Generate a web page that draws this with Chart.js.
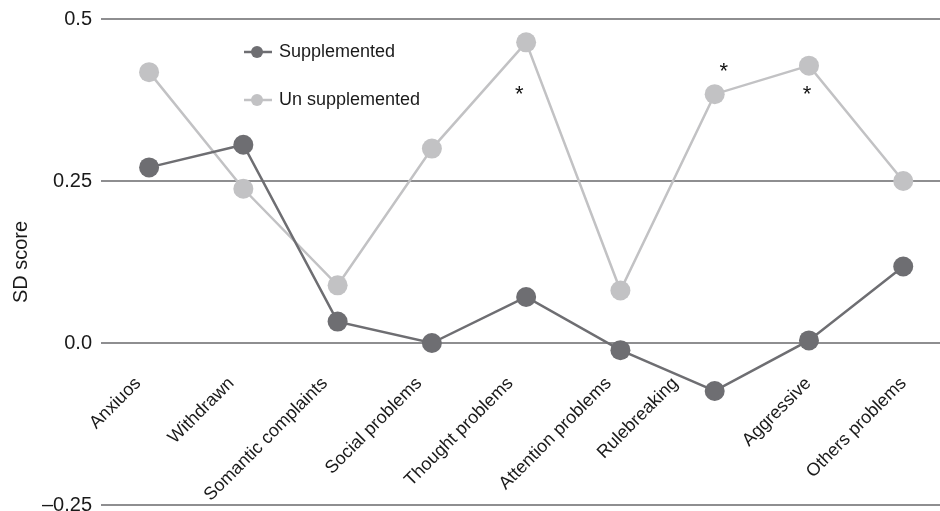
<!DOCTYPE html>
<html>
<head>
<meta charset="utf-8">
<script src="https://cdn.jsdelivr.net/npm/chart.js@4.4.1/dist/chart.umd.min.js"></script>
<style>
  html, body { margin: 0; padding: 0; background: #fff; }
  #wrap { width: 940px; height: 511px; }
</style>
</head>
<body>
<div id="wrap"><canvas id="canvas1"></canvas></div>
<script>
const categories = ['Anxiuos', 'Withdrawn', 'Somantic complaints', 'Social problems', 'Thought problems',
    'Attention problems', 'Rulebreaking', 'Aggressive', 'Others problems'];
const supplemented = [0.271, 0.306, 0.033, 0.0, 0.071, -0.011, -0.074, 0.004, 0.118];
const unsupplemented = [0.418, 0.238, 0.089, 0.300, 0.464, 0.081, 0.384, 0.428, 0.250];
const yTicks = [-0.25, 0, 0.25, 0.5];
const yTickLabels = ['\u20130.25', '0.0', '0.25', '0.5'];
// significance marks on the un supplemented series: index, dx, dy
const stars = [[4, -7, 53], [6, 9, -22], [7, -2, 29]];
// the original figure's axis labels sit a little off their points
const labelNudge = [0, -0.01, -0.02, -0.02, -0.05, -0.01, -0.30, 0.11, 0.12];

const darkGrey = '#6e6e72';
const lightGrey = '#c2c2c4';
const font = "'Liberation Sans', Arial, sans-serif";

const starPlugin = {
    id: 'stars',
    afterDatasetsDraw(chart) {
        const ctx = chart.ctx;
        const meta = chart.getDatasetMeta(1);
        ctx.save();
        ctx.fillStyle = '#111';
        ctx.font = '22px ' + font;
        ctx.textAlign = 'center';
        ctx.textBaseline = 'middle';
        stars.forEach(([i, dx, dy]) => {
            const p = meta.data[i];
            ctx.fillText('*', p.x + dx, p.y + dy);
        });
        ctx.restore();
    }
};

const legendPlugin = {
    id: 'innerLegend',
    afterDraw(chart) {
        const ctx = chart.ctx;
        const items = [['Supplemented', darkGrey, 52], ['Un supplemented', lightGrey, 100]];
        ctx.save();
        items.forEach(([text, color, y]) => {
            ctx.strokeStyle = color;
            ctx.lineWidth = 2.5;
            ctx.beginPath();
            ctx.moveTo(244, y);
            ctx.lineTo(272, y);
            ctx.stroke();
            ctx.fillStyle = color;
            ctx.beginPath();
            ctx.arc(257, y, 6, 0, Math.PI * 2);
            ctx.fill();
            ctx.fillStyle = '#1a1a1a';
            ctx.font = '18px ' + font;
            ctx.textBaseline = 'middle';
            ctx.fillText(text, 279, y);
        });
        ctx.restore();
    }
};

const toPoints = (values) => values.map((v, i) => ({ x: i, y: v }));

const data = {
    datasets: [{
        label: 'Supplemented',
        data: toPoints(supplemented),
        borderColor: darkGrey,
        backgroundColor: darkGrey,
        borderWidth: 2.5,
        pointRadius: 10,
        pointBorderWidth: 0,
        tension: 0
    }, {
        label: 'Un supplemented',
        data: toPoints(unsupplemented),
        borderColor: lightGrey,
        backgroundColor: lightGrey,
        borderWidth: 2.5,
        pointRadius: 10,
        pointBorderWidth: 0,
        tension: 0
    }]
};

const config = {
    type: 'line',
    data: data,
    plugins: [starPlugin, legendPlugin],
    options: {
        responsive: true,
        maintainAspectRatio: false,
        animation: false,
        layout: { autoPadding: false, padding: { top: 19, bottom: 6, left: 0, right: 0 } },
        plugins: {
            legend: { display: false },
            tooltip: { enabled: false }
        },
        scales: {
            x: {
                type: 'linear',
                position: { y: 0 },
                min: -0.51,
                max: 8.39,
                afterBuildTicks(scale) {
                    scale.ticks = categories.map((c, i) => ({ value: i + labelNudge[i] }));
                },
                afterFit(scale) {
                    scale.paddingLeft = 0;
                    scale.paddingRight = 0;
                },
                grid: { display: false },
                border: { display: false },
                ticks: {
                    color: '#1a1a1a',
                    font: { family: font, size: 18 },
                    maxRotation: 45,
                    minRotation: 45,
                    autoSkip: false,
                    padding: 22,
                    labelOffset: -11,
                    callback: (v, i) => categories[i]
                }
            },
            y: {
                min: -0.25,
                max: 0.5,
                afterBuildTicks(scale) {
                    scale.ticks = yTicks.map(v => ({ value: v }));
                },
                afterFit(scale) {
                    scale.width = 101;
                    scale.paddingTop = 0;
                    scale.paddingBottom = 0;
                },
                border: { display: false },
                grid: {
                    color: '#8e8e90',
                    lineWidth: 2,
                    drawTicks: false
                },
                ticks: {
                    color: '#1a1a1a',
                    font: { family: font, size: 20 },
                    padding: 9,
                    callback: (v) => yTickLabels[yTicks.indexOf(v)]
                },
                title: {
                    display: true,
                    text: 'SD score',
                    color: '#1a1a1a',
                    font: { family: font, size: 20 },
                    padding: { top: 9, bottom: 0 }
                }
            }
        }
    }
};

new Chart(document.getElementById('canvas1'), config);
</script>
</body>
</html>
